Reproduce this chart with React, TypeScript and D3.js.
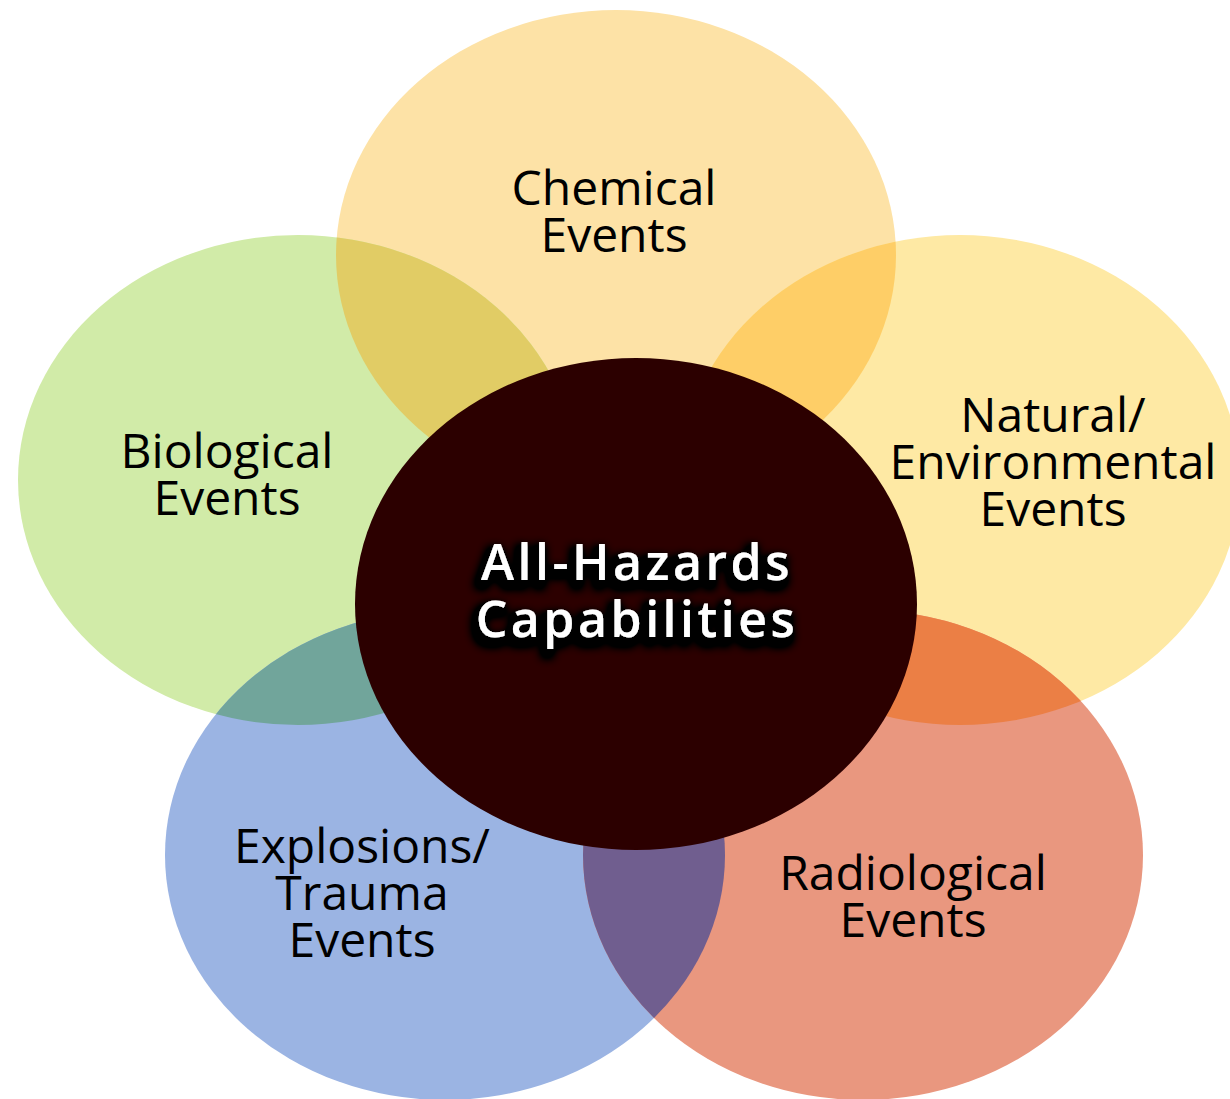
import { useRef, useEffect } from "react";
import * as d3 from "d3";

// Event groups, drawn in this order (center last)
const groups = ["chemical", "biological", "natural", "explosions", "radiological"];

const groupLabels: Record<string, string[]> = {
  chemical: ["Chemical", "Events"],
  biological: ["Biological", "Events"],
  natural: ["Natural/", "Environmental", "Events"],
  explosions: ["Explosions/", "Trauma", "Events"],
  radiological: ["Radiological", "Events"],
};

const centerLabel = ["All-Hazards", "Capabilities"];

// Pairs of groups that overlap
const overlaps: [string, string][] = [
  ["chemical", "biological"],
  ["chemical", "natural"],
  ["natural", "radiological"],
  ["explosions", "radiological"],
  ["biological", "explosions"],
];

// Layout (pixels)
const W = 1230;
const H = 1099;
const RX = 280;
const RY = 245;

const centers: Record<string, [number, number]> = {
  chemical: [616, 255],
  biological: [298, 480],
  natural: [960, 480],
  explosions: [445, 855],
  radiological: [863, 855],
  center: [636, 604],
};

const labelAnchors: Record<string, [number, number]> = {
  chemical: [614, 205],
  biological: [227, 468],
  natural: [1053, 432],
  explosions: [362, 863],
  radiological: [913, 890],
};

const fills: Record<string, string> = {
  chemical: "#fde2a6",
  biological: "#d1eba8",
  natural: "#fee9a4",
  explosions: "#9bb4e3",
  radiological: "#e9977f",
  center: "#2c0000",
};

const overlapFills: Record<string, string> = {
  "chemical-biological": "#e1cc65",
  "chemical-natural": "#fece67",
  "natural-radiological": "#eb7f45",
  "explosions-radiological": "#705e8f",
  "biological-explosions": "#71a59b",
};

export default function App() {
  const svgRef = useRef<SVGSVGElement>(null);

  useEffect(() => {
    if (!svgRef.current) return;
    const svg = d3.select(svgRef.current);
    svg.selectAll("*").remove();
    svg.attr("width", W).attr("height", H).attr("viewBox", `0 0 ${W} ${H}`);

    const defs = svg.append("defs");

    groups.forEach((g) => {
      defs.append("clipPath")
        .attr("id", `clip-${g}`)
        .append("ellipse")
        .attr("cx", centers[g][0])
        .attr("cy", centers[g][1])
        .attr("rx", RX)
        .attr("ry", RY);
    });

    // dark halo behind the center title
    const glow = defs.append("filter")
      .attr("id", "glow")
      .attr("x", "-20%").attr("y", "-40%")
      .attr("width", "140%").attr("height", "180%");
    glow.append("feMorphology").attr("in", "SourceAlpha").attr("operator", "dilate").attr("radius", 3).attr("result", "fat");
    glow.append("feGaussianBlur").attr("in", "fat").attr("stdDeviation", 5).attr("result", "blur");
    glow.append("feOffset").attr("in", "blur").attr("dx", -3).attr("dy", 6).attr("result", "off");
    glow.append("feComponentTransfer").attr("in", "off").attr("result", "dark")
      .append("feFuncA").attr("type", "linear").attr("slope", 2.5);
    const merge = glow.append("feMerge");
    merge.append("feMergeNode").attr("in", "dark");
    merge.append("feMergeNode").attr("in", "SourceGraphic");

    // Outer ellipses
    svg.append("g")
      .selectAll("ellipse")
      .data(groups)
      .join("ellipse")
      .attr("cx", (d) => centers[d][0])
      .attr("cy", (d) => centers[d][1])
      .attr("rx", RX)
      .attr("ry", RY)
      .attr("fill", (d) => fills[d]);

    // Overlap regions
    svg.append("g")
      .selectAll("ellipse")
      .data(overlaps)
      .join("ellipse")
      .attr("cx", (d) => centers[d[0]][0])
      .attr("cy", (d) => centers[d[0]][1])
      .attr("rx", RX)
      .attr("ry", RY)
      .attr("clip-path", (d) => `url(#clip-${d[1]})`)
      .attr("fill", (d) => overlapFills[`${d[0]}-${d[1]}`]);

    // Center ellipse
    svg.append("ellipse")
      .attr("cx", centers.center[0])
      .attr("cy", centers.center[1])
      .attr("rx", 281)
      .attr("ry", 246)
      .attr("fill", fills.center);

    // Group labels
    const lineH = 47;
    groups.forEach((g) => {
      const t = svg.append("text")
        .attr("text-anchor", "middle")
        .attr("font-family", "'Open Sans', sans-serif")
        .attr("font-size", 48)
        .attr("fill", "#000");
      groupLabels[g].forEach((line, i) => {
        t.append("tspan")
          .attr("x", labelAnchors[g][0])
          .attr("y", labelAnchors[g][1] + i * lineH)
          .text(line);
      });
    });

    // Center label
    const ct = svg.append("text")
      .attr("text-anchor", "middle")
      .attr("font-family", "'Open Sans', sans-serif")
      .attr("font-size", 50)
      .attr("font-weight", 600)
      .attr("letter-spacing", 3.5)
      .attr("fill", "#fff")
      .attr("filter", "url(#glow)");
    centerLabel.forEach((line, i) => {
      ct.append("tspan")
        .attr("x", 637)
        .attr("y", 580 + i * 57)
        .text(line);
    });
  }, []);

  return (
    <div style={{ position: "absolute", left: 0, top: 0, background: "#fff" }}>
      <svg ref={svgRef} style={{ display: "block" }} />
    </div>
  );
}
